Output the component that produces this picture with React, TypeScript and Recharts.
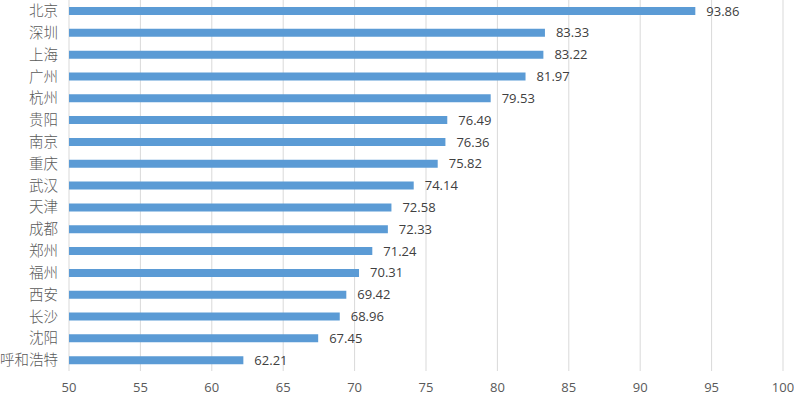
import React from 'react';
import { BarChart, Bar, XAxis, YAxis, CartesianGrid, LabelList } from 'recharts';

const cities = ['北京', '深圳', '上海', '广州', '杭州', '贵阳', '南京', '重庆', '武汉', '天津', '成都', '郑州', '福州', '西安', '长沙', '沈阳', '呼和浩特'];
const values = [93.86, 83.33, 83.22, 81.97, 79.53, 76.49, 76.36, 75.82, 74.14, 72.58, 72.33, 71.24, 70.31, 69.42, 68.96, 67.45, 62.21];
const xTicks = [50, 55, 60, 65, 70, 75, 80, 85, 90, 95, 100];

const data = cities.map((c, i) => ({ city: c, value: values[i] }));

export default function App() {
  return (
    <div style={{ position: 'absolute', left: 0, top: 0 }}>
      <BarChart
        width={794}
        height={395}
        data={data}
        layout="vertical"
        margin={{ top: 0, right: 11, bottom: 0, left: 0 }}
        barCategoryGap={7}
      >
        <CartesianGrid horizontal={false} vertical={true} stroke="#d9d9d9" strokeWidth={1} />
        <XAxis
          type="number"
          domain={[50, 100]}
          ticks={xTicks}
          allowDataOverflow
          axisLine={false}
          tickLine={false}
          tickSize={0}
          tickMargin={12}
          height={24}
          interval={0}
          tick={{ fill: '#595959', fontSize: 13, fontFamily: 'Open Sans, sans-serif' }}
        />
        <YAxis
          type="category"
          dataKey="city"
          width={69}
          axisLine={false}
          tickLine={false}
          tickSize={0}
          tickMargin={11}
          interval={0}
          tick={{ fill: '#595959', fontSize: 14.5, fontFamily: 'Noto Sans CJK SC, sans-serif', fontWeight: 300 }}
        />
        <Bar dataKey="value" fill="#5B9BD5" barSize={8} isAnimationActive={false}>
          <LabelList
            dataKey="value"
            position="right"
            offset={11}
            fill="#404040"
            fontSize={13}
            fontFamily="Open Sans, sans-serif"
            formatter={(v: number) => v.toFixed(2)}
          />
        </Bar>
      </BarChart>
    </div>
  );
}
